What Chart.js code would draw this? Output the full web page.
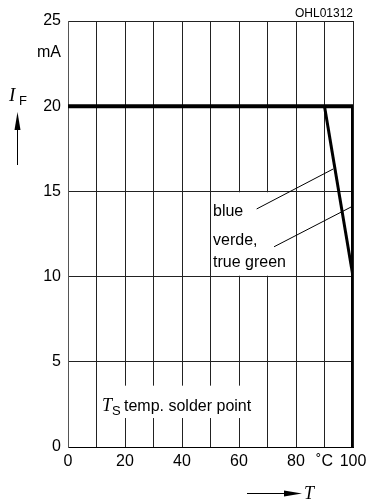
<!DOCTYPE html>
<html>
<head>
<meta charset="utf-8">
<script src="https://cdn.jsdelivr.net/npm/chart.js@4"></script>
<style>
html,body{margin:0;padding:0;background:#fff;}
#wrap{width:372px;height:503px;position:relative;}
</style>
</head>
<body>
<div id="wrap"><canvas id="c" width="372" height="503"></canvas></div>
<script>
// ---- data ----
const xTickValues = [0,10,20,30,40,50,60,70,80,90,100];
const xTickLabels = ['0','','20','','40','','60','','80','˚C','100'];
const yTickValues = [0,5,10,15,20,25];
const yTickLabels = ['0','5','10','15','20','25'];
const blueT  = [0, 100, 100];
const blueIF = [20, 20, 0];
const verdeT  = [90, 100];
const verdeIF = [20, 10];
const blueLeaderT  = [66.2, 93.1];
const blueLeaderIF = [13.97, 16.32];
const verdeLeaderT  = [72.3, 99.5];
const verdeLeaderIF = [11.75, 14.1];

const pts = (xs, ys) => xs.map((x, i) => ({x, y: ys[i]}));

const SANS = '"Liberation Sans", Arial, sans-serif';
const SERIF = '"Liberation Serif", "Times New Roman", serif';

const annot = {
  id: 'annot',
  beforeDatasetsDraw(chart) {
    const {ctx, scales: {x, y}} = chart;
    ctx.save();
    ctx.fillStyle = '#fff';
    // label boxes (white background behind texts)
    ctx.fillRect(x.getPixelForValue(51.5), y.getPixelForValue(14.95), x.getPixelForValue(79.2) - x.getPixelForValue(51.5), y.getPixelForValue(10.05) - y.getPixelForValue(14.95));
    ctx.fillRect(x.getPixelForValue(11.5), y.getPixelForValue(3.6), x.getPixelForValue(68.5) - x.getPixelForValue(11.5), y.getPixelForValue(1.7) - y.getPixelForValue(3.6));
    ctx.restore();
  },
  afterDraw(chart) {
    const {ctx, scales: {x, y}} = chart;
    ctx.save();
    ctx.fillStyle = '#000';
    ctx.strokeStyle = '#000';
    ctx.textBaseline = 'alphabetic';
    // code
    ctx.font = '12px ' + SANS;
    ctx.textAlign = 'right';
    ctx.fillText('OHL01312', 353, 17);
    // unit
    ctx.font = '16px ' + SANS;
    ctx.fillText('mA', 61, 57);
    // labels
    ctx.textAlign = 'left';
    ctx.font = '16px ' + SANS;
    ctx.fillText('blue', 213, 216);
    ctx.fillText('verde,', 213, 245);
    ctx.fillText('true green', 213, 267);
    // Ts label
    ctx.font = 'italic 18px ' + SERIF;
    ctx.fillText('T', 102, 411);
    ctx.font = '13px ' + SANS;
    ctx.fillText('S', 112, 415);
    ctx.font = '16px ' + SANS;
    ctx.fillText('temp. solder point', 124, 411);
    // I_F axis label
    ctx.font = 'italic 19px ' + SERIF;
    ctx.fillText('I', 9, 101);
    ctx.font = '13px ' + SANS;
    ctx.fillText('F', 19, 105);
    // up arrow
    ctx.lineWidth = 1;
    ctx.beginPath(); ctx.moveTo(17.5, 165); ctx.lineTo(17.5, 125); ctx.stroke();
    ctx.beginPath(); ctx.moveTo(17.5, 112); ctx.lineTo(20.5, 130); ctx.lineTo(14.5, 130); ctx.closePath(); ctx.fill();
    // right arrow
    ctx.beginPath(); ctx.moveTo(247, 493.5); ctx.lineTo(290, 493.5); ctx.stroke();
    ctx.beginPath(); ctx.moveTo(302, 493.5); ctx.lineTo(284, 490.5); ctx.lineTo(284, 496.5); ctx.closePath(); ctx.fill();
    ctx.font = 'italic 18px ' + SERIF;
    ctx.fillText('T', 304, 499);
    ctx.restore();
  }
};

new Chart(document.getElementById('c'), {
  type: 'scatter',
  data: {
    datasets: [
      {data: pts(blueT, blueIF), showLine: true, borderColor: '#000', borderWidth: 4, pointRadius: 0, borderCapStyle: 'butt', borderJoinStyle: 'miter'},
      {data: pts(verdeT, verdeIF), showLine: true, borderColor: '#000', borderWidth: 3, pointRadius: 0},
      {data: pts(blueLeaderT, blueLeaderIF), showLine: true, borderColor: '#000', borderWidth: 1, pointRadius: 0},
      {data: pts(verdeLeaderT, verdeLeaderIF), showLine: true, borderColor: '#000', borderWidth: 1, pointRadius: 0}
    ]
  },
  options: {
    responsive: false,
    animation: false,
    events: [],
    layout: {padding: {top: 21, right: 19, left: 0, bottom: 0}},
    plugins: {legend: {display: false}, tooltip: {enabled: false}},
    scales: {
      x: {
        type: 'linear', min: 0, max: 100,
        afterBuildTicks: s => { s.ticks = xTickValues.map(v => ({value: v})); },
        afterFit: s => { s.height = 56; s.paddingLeft = 0; s.paddingRight = 0; },
        ticks: {
          autoSkip: false, maxRotation: 0, padding: 5, color: '#000',
          font: {family: SANS, size: 16},
          callback: (v) => xTickLabels[xTickValues.indexOf(v)]
        },
        grid: {color: '#222', lineWidth: 1, drawTicks: false},
        border: {color: '#000', width: 1}
      },
      y: {
        type: 'linear', min: 0, max: 25,
        afterBuildTicks: s => { s.ticks = yTickValues.map(v => ({value: v})); },
        afterFit: s => { s.width = 68; s.paddingTop = 0; s.paddingBottom = 0; },
        ticks: {
          autoSkip: false, padding: 7, color: '#000',
          font: {family: SANS, size: 16},
          callback: (v) => yTickLabels[yTickValues.indexOf(v)]
        },
        grid: {color: '#222', lineWidth: 1, drawTicks: false},
        border: {color: '#555', width: 1}
      }
    }
  },
  plugins: [annot]
});
</script>
</body>
</html>
